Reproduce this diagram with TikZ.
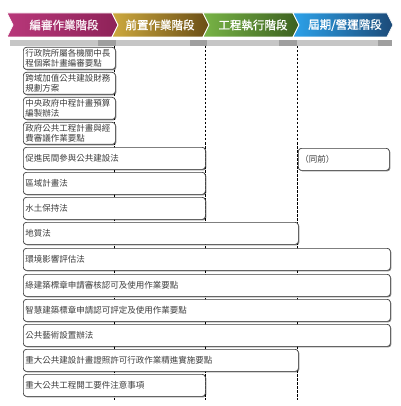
\documentclass[tikz,border=0pt]{standalone}
\usepackage{fontspec}
\newfontfamily\cjk{Noto Sans CJK TC}
\newfontfamily\cjkhead{Noto Sans CJK TC}[FakeBold=1.2]
\usetikzlibrary{shadows}
\definecolor{boxline}{HTML}{3A3A3A}
\definecolor{lawtext}{HTML}{3C3C3C}
\definecolor{magL}{HTML}{B8387A}
\definecolor{magR}{HTML}{8E2258}
\definecolor{golL}{HTML}{CDA93E}
\definecolor{golR}{HTML}{6A4E16}
\definecolor{grnL}{HTML}{78B446}
\definecolor{grnR}{HTML}{3C6020}
\definecolor{bluL}{HTML}{2CA2EA}
\definecolor{bluR}{HTML}{1C4A78}
\tikzset{
  lawbox/.style={draw=boxline, line width=0.7pt, rounded corners=3pt, fill=white,
    inner sep=2pt, align=left, anchor=north west, minimum height=22pt,
    font=\cjk\fontsize{8.5}{9.6}\selectfont, text=lawtext,
    drop shadow={shadow xshift=1pt, shadow yshift=-1pt, fill=black, opacity=0.45}},
  wa/.style={text width=88pt},
  wb/.style={text width=178pt},
  wc/.style={text width=271pt},
  wd/.style={text width=363pt},
  phasetext/.style={font=\cjkhead\fontsize{11.5}{12}\selectfont, text=white, inner sep=0pt},
  chev/.style={draw=white, line width=0.8pt},
  phaseline/.style={draw=black, line width=1pt, dash pattern=on 2.5pt off 1.5pt},
}
\begin{document}
\begin{tikzpicture}[x=1pt,y=-1pt]
\useasboundingbox (0,0) rectangle (400,406);
% grey bar under the header
\fill[gray!45] (10,40) rectangle (392,46);
\fill[gray!75] (98,40) rectangle (116,46);
\fill[gray!75] (190,40) rectangle (207,46);
\fill[gray!75] (279,40) rectangle (297,46);
\fill[gray!75] (378,40) rectangle (392,46);
% chevrons
\path[chev, left color=magL, right color=magR] (7,13) -- (112,13) -- (118,25) -- (112,37) -- (7,37) -- (13,25) -- cycle;
\path[chev, left color=golL, right color=golR] (112,13) -- (203,13) -- (209,25) -- (203,37) -- (112,37) -- (118,25) -- cycle;
\path[chev, left color=grnL, right color=grnR] (203,13) -- (293,13) -- (299,25) -- (293,37) -- (203,37) -- (209,25) -- cycle;
\path[chev, left color=bluL, right color=bluR] (293,13) -- (387,13) -- (393,25) -- (387,37) -- (293,37) -- (299,25) -- cycle;
\node[phasetext, text=magL!8] (p1) at (64,25) {編審作業階段};
\node[phasetext] (p2) at (160,25) {前置作業階段};
\node[phasetext] (p3) at (253,25) {工程執行階段};
\node[phasetext] (p4) at (345,25) {屆期/營運階段};
% dashed phase boundaries
\coordinate (d1t) at (114.5,46); \coordinate (d1b) at (114.5,400);
\coordinate (d2t) at (205,46); \coordinate (d2b) at (205,400);
\coordinate (d3t) at (297,46); \coordinate (d3b) at (297,400);
\draw[phaseline] (d1t) -- (d1b);
\draw[phaseline] (d2t) -- (d2b);
\draw[phaseline] (d3t) -- (d3b);
% law boxes
\node[lawbox, wa] (r1) at (23,47) {行政院所屬各機關中長\\程個案計畫編審要點};
\node[lawbox, wa] (r2) at (23,72) {跨域加值公共建設財務\\規劃方案};
\node[lawbox, wa] (r3) at (23,97) {中央政府中程計畫預算\\編製辦法};
\node[lawbox, wa] (r4) at (23,122) {政府公共工程計畫與經\\費審議作業要點};
\node[lawbox, wb] (r5) at (23,147) {促進民間參與公共建設法};
\node[lawbox, text width=87pt] (r5b) at (298,148) {（同前）};
\node[lawbox, wb] (r6) at (23,172) {區域計畫法};
\node[lawbox, wb] (r7) at (23,197) {水土保持法};
\node[lawbox, wc] (r8) at (23,222) {地質法};
\node[lawbox, wd] (r9) at (23,248) {環境影響評估法};
\node[lawbox, wd] (r10) at (23,274) {綠建築標章申請審核認可及使用作業要點};
\node[lawbox, wd] (r11) at (23,299) {智慧建築標章申請認可評定及使用作業要點};
\node[lawbox, wd] (r12) at (23,324) {公共藝術設置辦法};
\node[lawbox, wc] (r13) at (23,349) {重大公共建設計畫證照許可行政作業精進實施要點};
\node[lawbox, wb] (r14) at (23,374) {重大公共工程開工要件注意事項};
\end{tikzpicture}
\end{document}
